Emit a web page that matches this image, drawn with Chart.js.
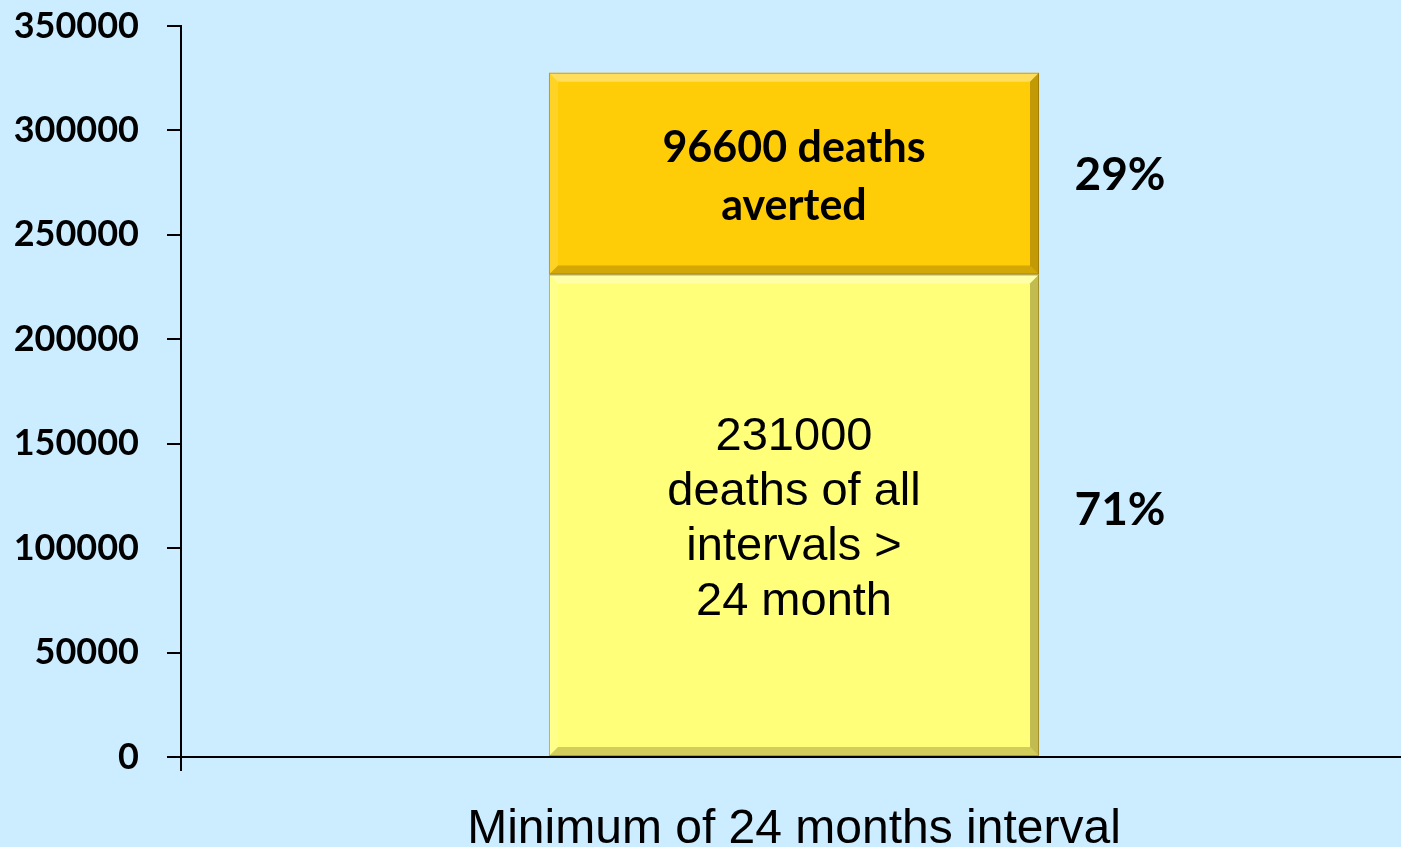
<!DOCTYPE html>
<html>
<head>
<meta charset="utf-8">
<script src="https://cdn.jsdelivr.net/npm/chart.js@4/dist/chart.umd.min.js"></script>
<style>
  html, body { margin: 0; padding: 0; background: #CCECFF; overflow: hidden; }
  canvas { display: block; }
</style>
</head>
<body>
<canvas id="deathsChart" width="1407" height="847"></canvas>
<script>
// data
var categories = ["Minimum of 24 months interval"];
var baseDeaths = [231000];
var avertedDeaths = [96600];
var baseText = ["231000", "deaths of all", "intervals >", "24 month"];
var avertedText = ["96600 deaths", "averted"];
var shareLabels = ["71%", "29%"];
var yTicks = [0, 50000, 100000, 150000, 200000, 250000, 300000, 350000];

var calibri = "Lato, 'Noto Sans', sans-serif";
var arial = "'Liberation Sans', Arial, sans-serif";

// bevel look like the office chart
var bevelPlugin = {
  id: "bevel",
  afterDatasetsDraw: function(chart) {
    var ctx = chart.ctx;
    var b = 9;
    chart.data.datasets.forEach(function(ds, i) {
      chart.getDatasetMeta(i).data.forEach(function(bar) {
        var x0 = bar.x - bar.width / 2, x1 = bar.x + bar.width / 2;
        var y0 = Math.min(bar.y, bar.base), y1 = Math.max(bar.y, bar.base);
        ctx.save();
        function poly(pts, color) {
          ctx.beginPath();
          ctx.moveTo(pts[0][0], pts[0][1]);
          for (var k = 1; k < pts.length; k++) ctx.lineTo(pts[k][0], pts[k][1]);
          ctx.closePath();
          ctx.fillStyle = color;
          ctx.fill();
        }
        poly([[x0, y0], [x1, y0], [x1 - b, y0 + b], [x0 + b, y0 + b]], "rgba(255,255,255,0.35)");
        poly([[x0, y0], [x0 + b, y0 + b], [x0 + b, y1 - b], [x0, y1]], "rgba(255,255,255,0.12)");
        poly([[x1, y0], [x1, y1], [x1 - b, y1 - b], [x1 - b, y0 + b]], "rgba(80,60,0,0.35)");
        poly([[x0, y1], [x0 + b, y1 - b], [x1 - b, y1 - b], [x1, y1]], "rgba(80,60,0,0.25)");
        ctx.strokeStyle = "rgba(120,90,0,0.45)";
        ctx.lineWidth = 1;
        ctx.strokeRect(x0 + 0.5, y0 + 0.5, bar.width - 1, y1 - y0 - 1);
        ctx.restore();
      });
    });
  }
};

var labelPlugin = {
  id: "barLabels",
  afterDatasetsDraw: function(chart) {
    var ctx = chart.ctx;
    ctx.save();
    ctx.fillStyle = "#000";
    ctx.textAlign = "center";
    ctx.textBaseline = "middle";
    var baseBar = chart.getDatasetMeta(0).data[0];
    var topBar = chart.getDatasetMeta(1).data[0];

    var cy = (baseBar.y + baseBar.base) / 2 + 4;
    ctx.font = "47px " + arial;
    baseText.forEach(function(t, i) {
      ctx.fillText(t, baseBar.x, cy + (i - (baseText.length - 1) / 2) * 55);
    });

    cy = (topBar.y + topBar.base) / 2 + 3;
    ctx.font = "bold 43px " + calibri;
    avertedText.forEach(function(t, i) {
      ctx.fillText(t, topBar.x, cy + (i - (avertedText.length - 1) / 2) * 58);
    });

    ctx.font = "bold 46px " + calibri;
    var px = baseBar.x + baseBar.width / 2 + 81;
    ctx.fillText(shareLabels[0], px, (baseBar.y + baseBar.base) / 2 - 5);
    ctx.fillText(shareLabels[1], px, (topBar.y + topBar.base) / 2 + 2);
    ctx.restore();
  }
};

new Chart(document.getElementById("deathsChart").getContext("2d"), {
  type: "bar",
  data: {
    labels: categories,
    datasets: [{
      label: "deaths of all intervals > 24 month",
      data: baseDeaths,
      backgroundColor: "#FFFF7A"
    }, {
      label: "deaths averted",
      data: avertedDeaths,
      backgroundColor: "#FFCC08"
    }]
  },
  options: {
    responsive: false,
    animation: false,
    events: [],
    layout: { padding: { top: 26, right: 0, left: 0, bottom: 0 } },
    plugins: { legend: { display: false }, tooltip: { enabled: false } },
    datasets: { bar: { categoryPercentage: 1, barPercentage: 0.3997 } },
    scales: {
      x: {
        stacked: true,
        grid: { offset: true, drawOnChartArea: false, tickLength: 14, color: "#000", lineWidth: 2 },
        border: { display: true, color: "#000", width: 2 },
        ticks: { color: "#000", padding: 30, maxRotation: 0, font: { family: arial, size: 48 } },
        afterFit: function(scale) {
          scale.height = 90;
          scale.paddingLeft = 0;
          scale.paddingRight = 0;
        }
      },
      y: {
        stacked: true,
        min: 0,
        max: 350000,
        afterBuildTicks: function(scale) {
          scale.ticks = yTicks.map(function(v) { return { value: v }; });
        },
        grid: { drawOnChartArea: false, tickLength: 14, color: "#000", lineWidth: 2 },
        border: { display: true, color: "#000", width: 2 },
        ticks: {
          color: "#000",
          padding: 28,
          font: { family: calibri, size: 36, weight: "bold" },
          callback: function(v) { return String(v); }
        },
        afterFit: function(scale) {
          scale.width = 181;
          scale.paddingTop = 0;
          scale.paddingBottom = 0;
        }
      }
    }
  },
  plugins: [bevelPlugin, labelPlugin]
});
</script>
</body>
</html>
